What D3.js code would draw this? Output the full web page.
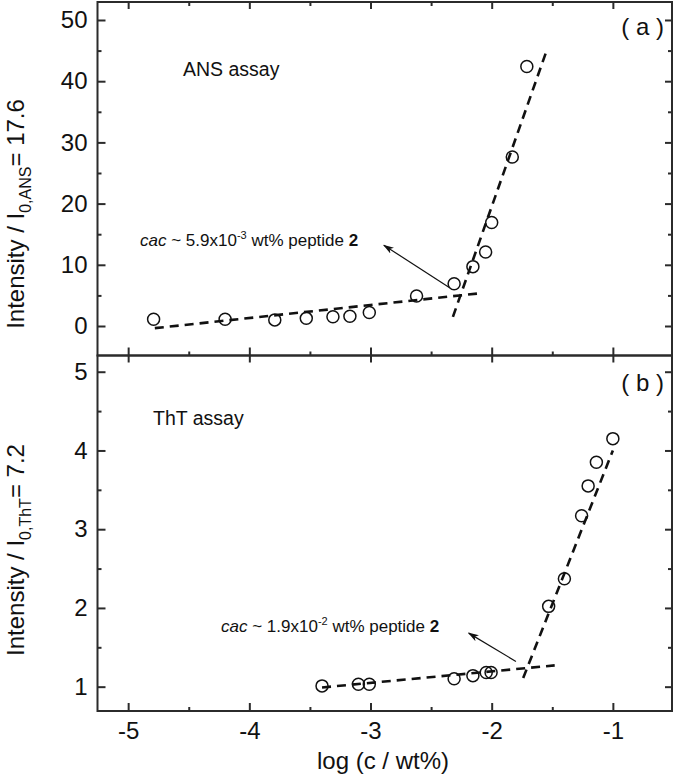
<!DOCTYPE html>
<html>
<head>
<meta charset="utf-8">
<script src="https://cdnjs.cloudflare.com/ajax/libs/d3/7.8.5/d3.min.js"></script>
<style>
    body { margin: 0; background: #fff; }
    text { font-family: "Liberation Sans", Arial, sans-serif; fill: #111; }
    .axis path { display: none; }
    .axis line { stroke: #2b2b2b; stroke-width: 2; }
</style>
</head>
<body>
<div id="chart"></div>
<script>
// shared x axis, log (c / wt%)
var xTicks = [-5, -4, -3, -2, -1];
var xMinor = [-4.5, -3.5, -2.5, -1.5];

// (a) ANS assay
var ansX = [-4.79, -4.20, -3.79, -3.53, -3.31, -3.17, -3.01, -2.62, -2.31, -2.155, -2.05, -2.0, -1.83, -1.71];
var ansY = [1.1, 1.1, 1.0, 1.25, 1.5, 1.6, 2.2, 4.9, 6.9, 9.7, 12.1, 16.9, 27.6, 42.4];
var ansFitLow = [[-4.78, -0.35], [-2.12, 5.3]];
var ansFitHigh = [[-2.32, 1.5], [-1.55, 44.8]];
var ansArrow = [[-2.35, 6.3], [-2.89, 13.2]];
var ansTicks = [0, 10, 20, 30, 40, 50];
var ansMinor = [5, 15, 25, 35, 45];

// (b) ThT assay
var thtX = [-3.40, -3.10, -3.01, -2.31, -2.155, -2.045, -2.005, -1.53, -1.40, -1.258, -1.204, -1.136, -1.0];
var thtY = [1.01, 1.03, 1.03, 1.10, 1.14, 1.18, 1.18, 2.02, 2.37, 3.17, 3.55, 3.85, 4.15];
var thtFitLow = [[-3.40, 0.99], [-1.48, 1.27]];
var thtFitHigh = [[-1.74, 1.11], [-1.0, 4.0]];
var thtArrow = [[-1.80, 1.32], [-2.19, 1.68]];
var thtTicks = [1, 2, 3, 4, 5];
var thtMinor = [1.5, 2.5, 3.5, 4.5];

var width = 675, height = 783;
var left = 97.5, right = 672;

// plain hyphen minus like the original figure
var fmt = function (d) { return String(d); };

var svg = d3.select("#chart").append("svg")
    .attr("width", width)
    .attr("height", height);

svg.append("defs").append("marker")
    .attr("id", "arrowhead")
    .attr("markerUnits", "userSpaceOnUse")
    .attr("markerWidth", 11)
    .attr("markerHeight", 7)
    .attr("refX", 10)
    .attr("refY", 3.5)
    .attr("orient", "auto")
    .append("path")
    .attr("d", "M0,0 L11,3.5 L0,7 L3,3.5 z")
    .attr("fill", "#111");

var x = d3.scaleLinear().domain([-5.253, -0.512]).range([left, right]);

function panel(cfg) {
    var y = d3.scaleLinear().domain(cfg.yDomain).range([cfg.bottom, cfg.top]);
    var g = svg.append("g");

    // ticks, all pointing inward
    g.append("g").attr("class", "axis")
        .attr("transform", "translate(" + left + ",0)")
        .call(d3.axisLeft(y).tickValues(cfg.ticks).tickSizeInner(-8).tickSizeOuter(0).tickPadding(10).tickFormat(fmt))
        .selectAll("text").style("font-size", "24px").attr("fill", "#111");
    g.append("g").attr("class", "axis")
        .attr("transform", "translate(" + left + ",0)")
        .call(d3.axisLeft(y).tickValues(cfg.minor).tickSizeInner(-4).tickSizeOuter(0).tickFormat(""));
    g.append("g").attr("class", "axis")
        .attr("transform", "translate(" + right + ",0)")
        .call(d3.axisRight(y).tickValues(cfg.ticks).tickSizeInner(-7).tickSizeOuter(0).tickFormat(""));
    g.append("g").attr("class", "axis")
        .attr("transform", "translate(" + right + ",0)")
        .call(d3.axisRight(y).tickValues(cfg.minor).tickSizeInner(-4).tickSizeOuter(0).tickFormat(""));

    g.append("g").attr("class", "axis")
        .attr("transform", "translate(0," + cfg.bottom + ")")
        .call(d3.axisBottom(x).tickValues(xTicks).tickSizeInner(-8).tickSizeOuter(0)
            .tickFormat(cfg.xLabels ? fmt : "").tickPadding(11))
        .selectAll("text").style("font-size", "24px").attr("fill", "#111");
    g.append("g").attr("class", "axis")
        .attr("transform", "translate(0," + cfg.bottom + ")")
        .call(d3.axisBottom(x).tickValues(xMinor).tickSizeInner(-4).tickSizeOuter(0).tickFormat(""));
    g.append("g").attr("class", "axis")
        .attr("transform", "translate(0," + cfg.top + ")")
        .call(d3.axisTop(x).tickValues(xTicks).tickSizeInner(-7).tickSizeOuter(0).tickFormat(""));
    if (cfg.topMinor)
        g.append("g").attr("class", "axis")
            .attr("transform", "translate(0," + cfg.top + ")")
            .call(d3.axisTop(x).tickValues(xMinor).tickSizeInner(-4).tickSizeOuter(0).tickFormat(""));

    // frame
    g.append("rect")
        .attr("x", left).attr("y", cfg.top)
        .attr("width", right - left).attr("height", cfg.bottom - cfg.top)
        .attr("fill", "none").attr("stroke", "#2b2b2b").attr("stroke-width", 2);

    // fitted lines
    var line = d3.line()
        .x(function (d) { return x(d[0]); })
        .y(function (d) { return y(d[1]); });
    [cfg.fitLow, cfg.fitHigh].forEach(function (f) {
        g.append("path")
            .datum(f)
            .attr("d", line)
            .attr("fill", "none")
            .attr("stroke", "#111")
            .attr("stroke-width", 2.6)
            .attr("stroke-dasharray", "9,6");
    });

    // data points
    g.selectAll(".pt")
        .data(cfg.xs)
        .enter().append("circle")
        .attr("class", "pt")
        .attr("cx", function (d) { return x(d); })
        .attr("cy", function (d, i) { return y(cfg.ys[i]); })
        .attr("r", 6)
        .attr("fill", "none")
        .attr("stroke", "#111")
        .attr("stroke-width", 1.5);

    // arrow to the break point
    g.append("line")
        .attr("x1", x(cfg.arrow[0][0])).attr("y1", y(cfg.arrow[0][1]))
        .attr("x2", x(cfg.arrow[1][0])).attr("y2", y(cfg.arrow[1][1]))
        .attr("stroke", "#111")
        .attr("stroke-width", 1.2)
        .attr("marker-end", "url(#arrowhead)");

    // cac annotation
    var t = g.append("text")
        .attr("x", cfg.noteX).attr("y", cfg.noteY)
        .style("font-size", "17px");
    t.append("tspan").style("font-style", "italic").text("cac");
    t.append("tspan").text(" ~ " + cfg.cac);
    t.append("tspan").attr("dy", -7).style("font-size", "11px").text(cfg.cacExp);
    t.append("tspan").attr("dy", 7).text(" wt% peptide ");
    t.append("tspan").style("font-weight", "bold").text("2");

    // assay name and panel letter
    g.append("text")
        .attr("x", cfg.assayX).attr("y", cfg.assayY)
        .style("font-size", "19.5px")
        .text(cfg.assay);
    g.append("text")
        .attr("x", 664).attr("y", cfg.letterY)
        .attr("text-anchor", "end")
        .style("font-size", "24px")
        .text(cfg.letter);

    // y axis title
    var yt = g.append("text")
        .attr("transform", "translate(24," + cfg.titleY + ") rotate(-90)")
        .attr("text-anchor", "middle")
        .style("font-size", "24px");
    yt.append("tspan").text("Intensity / I");
    yt.append("tspan").attr("dy", 7).style("font-size", "16px").text(cfg.sub);
    yt.append("tspan").attr("dy", -7).text("= " + cfg.i0);
}

panel({
    top: 2, bottom: 355.5, yDomain: [-4.82, 52.94],
    ticks: ansTicks, minor: ansMinor, xLabels: false, topMinor: true,
    xs: ansX, ys: ansY, fitLow: ansFitLow, fitHigh: ansFitHigh, arrow: ansArrow,
    noteX: 140, noteY: 246, cac: "5.9x10", cacExp: "-3",
    assay: "ANS assay", assayX: 183, assayY: 76,
    letter: "( a )", letterY: 35,
    sub: "0,ANS", i0: "17.6", titleY: 214
});

panel({
    top: 355.5, bottom: 711, yDomain: [0.691, 5.206],
    ticks: thtTicks, minor: thtMinor, xLabels: true, topMinor: false,
    xs: thtX, ys: thtY, fitLow: thtFitLow, fitHigh: thtFitHigh, arrow: thtArrow,
    noteX: 221, noteY: 632, cac: "1.9x10", cacExp: "-2",
    assay: "ThT assay", assayX: 153, assayY: 425,
    letter: "( b )", letterY: 391,
    sub: "0,ThT", i0: "7.2", titleY: 550
});

// x axis title
svg.append("text")
    .attr("x", 383)
    .attr("y", 769)
    .attr("text-anchor", "middle")
    .style("font-size", "24px")
    .text("log (c / wt%)");
</script>
</body>
</html>
